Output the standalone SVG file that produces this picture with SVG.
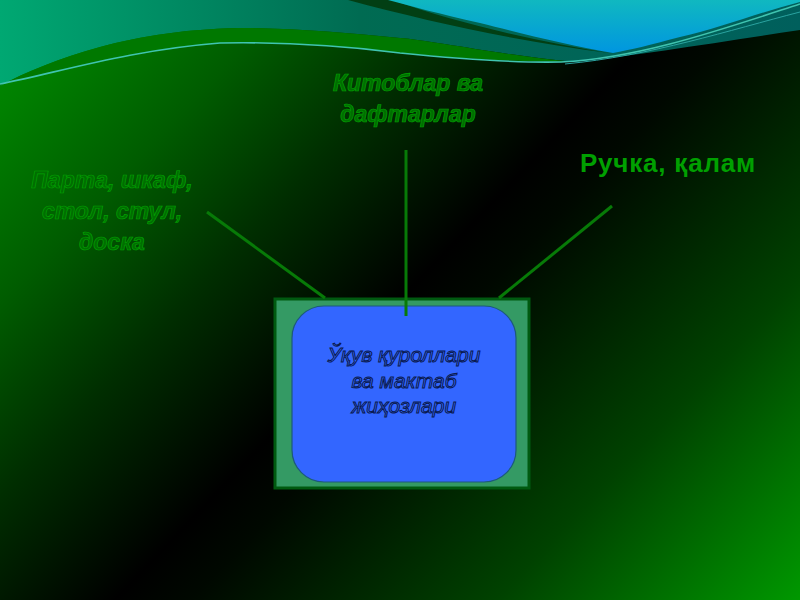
<svg xmlns="http://www.w3.org/2000/svg" width="800" height="600" viewBox="0 0 800 600">
  <defs>
    <linearGradient id="bg" gradientUnits="userSpaceOnUse" x1="0" y1="0" x2="800" y2="760">
      <stop offset="0" stop-color="#009000"/>
      <stop offset="0.07" stop-color="#008000"/>
      <stop offset="0.19" stop-color="#005c00"/>
      <stop offset="0.31" stop-color="#002e00"/>
      <stop offset="0.45" stop-color="#000000"/>
      <stop offset="0.5" stop-color="#000800"/>
      <stop offset="0.7" stop-color="#004200"/>
      <stop offset="0.9" stop-color="#009800"/>
      <stop offset="1" stop-color="#00a800"/>
    </linearGradient>
    <linearGradient id="teal" x1="0" y1="0" x2="1" y2="0">
      <stop offset="0" stop-color="#00a872"/>
      <stop offset="0.45" stop-color="#006b52"/>
      <stop offset="1" stop-color="#005f5c"/>
    </linearGradient>
    <linearGradient id="cyan" x1="0" y1="0" x2="0" y2="1">
      <stop offset="0" stop-color="#10b8c0"/>
      <stop offset="1" stop-color="#0096e0"/>
    </linearGradient>
    <style>
      .lbl { font-family: "Liberation Sans", Arial, sans-serif; font-size: 23px; font-style: italic; font-weight: bold; fill: #006e00; stroke: #00a000; stroke-width: 0.7; text-anchor: middle; }
      .lbl2 { font-family: "Liberation Sans", Arial, sans-serif; font-size: 26px; font-weight: bold; fill: #00a000; letter-spacing: 0.8px; text-anchor: middle; }
      .ctr { font-family: "Liberation Sans", Arial, sans-serif; font-size: 21px; font-style: italic; fill: #3366ff; stroke: #0a1a50; stroke-width: 1; text-anchor: middle; }
      .conn { stroke: #077a07; stroke-width: 3; fill: none; }
    </style>
  </defs>

  <rect x="0" y="0" width="800" height="600" fill="url(#bg)"/>

  <!-- top decorative waves -->
  <path d="M0,0 H800 V30 C 720,42 640,55 575,62 C 500,55 430,40 400,38 C 350,33 300,29 250,28 C 190,28 140,36 100,47 C 60,58 25,72 0,86 Z" fill="url(#teal)"/>
  <path d="M0,86 C 25,72 60,58 100,47 C 140,36 190,28 250,28 C 300,29 350,33 400,38 C 430,40 500,55 575,62 C 500,62 450,57 400,53 C 330,44 270,42 220,43 C 130,50 60,72 0,84 Z" fill="#007800"/>
  <path d="M348,0 L392,0 C 460,24 540,42 610,53 C 520,42 430,22 348,0 Z" fill="#023f14"/>
  <path d="M388,0 H800 V2 C 760,12 720,28 680,37 C 650,45 630,50 613,53 C 570,46 520,33 480,23 C 440,14 410,6 388,0 Z" fill="url(#cyan)"/>
  <path d="M0,84 C 60,72 130,50 220,43 C 270,42 330,44 400,53 C 470,60 520,63 561,62 C 640,58 720,30 800,4" fill="none" stroke="#3fc4b0" stroke-width="1.6"/>
  <path d="M565,64 C 650,56 730,30 800,12" fill="none" stroke="#2aa3a0" stroke-width="1"/>

  <!-- center node -->
  <g id="node-center">
    <rect x="275" y="299" width="254" height="189" fill="#349a64" stroke="#005a10" stroke-width="3"/>
    <rect x="292" y="306" width="224" height="176" rx="32" ry="32" fill="#3366ff" stroke="#1d5a7a" stroke-width="1.2"/>
    <text class="ctr" x="404" y="362">Ўқув қуроллари</text>
    <text class="ctr" x="404" y="388">ва мактаб</text>
    <text class="ctr" x="404" y="413">жиҳозлари</text>
  </g>

  <!-- connectors -->
  <g id="connectors">
    <line class="conn" x1="207" y1="212" x2="325" y2="298"/>
    <line class="conn" x1="406" y1="150" x2="406" y2="316"/>
    <line class="conn" x1="612" y1="206" x2="499" y2="298"/>
  </g>

  <g id="node-left">
    <text class="lbl" x="112" y="188">Парта, шкаф,</text>
    <text class="lbl" x="112" y="219">стол, стул,</text>
    <text class="lbl" x="112" y="250">доска</text>
  </g>

  <g id="node-top">
    <text class="lbl" x="408" y="91">Китоблар ва</text>
    <text class="lbl" x="408" y="122">дафтарлар</text>
  </g>

  <g id="node-right">
    <text class="lbl2" x="668" y="172">Ручка, қалам</text>
  </g>
</svg>
